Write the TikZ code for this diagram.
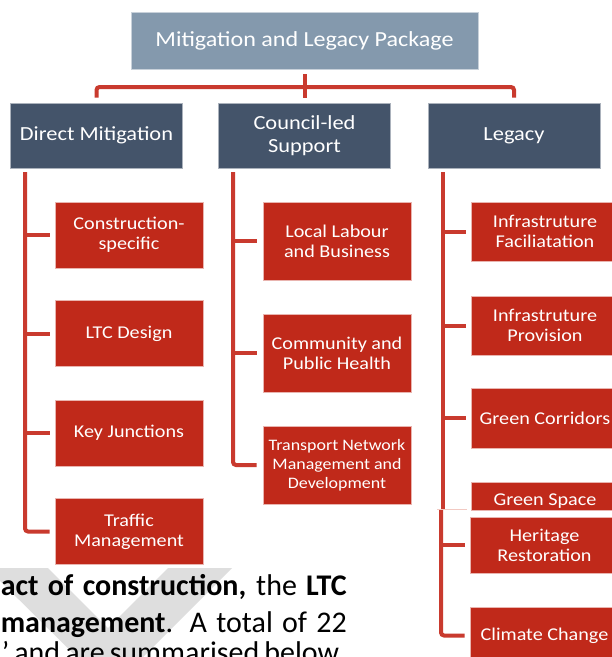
\documentclass[tikz,border=0pt]{standalone}
\usepackage{fontspec}
\setmainfont{Carlito}
\newfontfamily\diagfont{Carlito}[FakeStretch=1.12]
\definecolor{topc}{HTML}{8499AD}
\definecolor{midc}{HTML}{44546A}
\definecolor{boxred}{HTML}{C0291A}
\definecolor{connc}{HTML}{C93A2E}
\definecolor{wmark}{HTML}{DEDEDE}
\definecolor{seam}{HTML}{F2C9C2}
\tikzset{
  toplbl/.style={fill=topc, draw=white!55!topc, line width=0.6pt, text=white, minimum width=347pt, minimum height=57pt, inner sep=0pt, font=\diagfont\fontsize{21.5}{24}\selectfont},
  headbox/.style={fill=midc, draw=white!55!midc, line width=0.6pt, text=white, minimum width=172pt, minimum height=65pt, inner sep=0pt, align=center, font=\diagfont\fontsize{20}{23}\selectfont},
  leafbox/.style={fill=boxred, draw=white!65!boxred, line width=0.6pt, text=white, minimum width=148pt, inner sep=0pt, align=center, font=\diagfont\fontsize{18}{20}\selectfont},
  leaftext/.style={text=white, inner sep=0pt, align=center, font=\diagfont\fontsize{18}{20}\selectfont},
  conn/.style={draw=connc, line width=4pt},
  bodytext/.style={anchor=base east, inner sep=0pt, text=black, font=\fontsize{30}{37}\selectfont}
}
\begin{document}
\begin{tikzpicture}[x=1pt,y=-1pt]
\clip (0,0) rectangle (612,657);
\fill[white] (0,0) rectangle (612,657);

% watermark
\fill[wmark] (-13,568) -- (48,568) -- (108,628) -- (168,568) -- (232,568) -- (110,690) -- cycle;

% top and heads
\node[toplbl] (top) at (304.5,40.5) {Mitigation and Legacy Package};
\node[headbox] (direct) at (96.5,135.5) {Direct Mitigation};
\node[headbox] (council) at (304.5,135.5) {Council-led\\Support};
\node[headbox] (legacy) at (514,135.5) {Legacy};

% left column
\node[leafbox, minimum height=66pt] (cons) at (129,235) {Construction-\\specific};
\node[leafbox, minimum height=66pt] (ltc) at (129,333.5) {LTC Design};
\node[leafbox, minimum height=66pt] (key) at (129,433) {Key Junctions};
\node[leafbox, minimum height=66pt] (traffic) at (129,531.5) {Traffic\\Management};

% middle column
\node[leafbox, minimum height=78pt] (labour) at (337,241) {Local Labour\\and Business};
\node[leafbox, minimum height=78pt] (health) at (337,353) {Community and\\Public Health};
\node[leafbox, minimum height=78pt, font=\diagfont\fontsize{16}{19}\selectfont] (transport) at (337,465) {Transport Network\\Management and\\Development};

% right column
\node[leafbox, minimum height=59pt] (infraf) at (545,231.5) {Infrastruture\\Faciliatation};
\node[leafbox, minimum height=59pt] (infrap) at (545,325.5) {Infrastruture\\Provision};
\node[leafbox, minimum height=60pt] (green) at (545,418) {Green Corridors};
\node[leafbox, minimum height=28pt] (gspace) at (545,496) {};
\node[leaftext, anchor=base] (gspacet) at (545,505) {Green Space};
\node[leafbox, minimum height=56pt, minimum width=149pt] (heritage) at (544.5,545) {Heritage\\Restoration};
\node[leafbox, minimum height=57pt, minimum width=149pt] (climate) at (544.5,635.5) {Climate Change};

% top connector
\coordinate (hb) at (305,87);
\draw[conn] ([yshift=-5pt]top.south) -- ([yshift=5pt]council.north);
\draw[conn, rounded corners=3pt] ([yshift=5pt]direct.north) |- (hb) -| ([yshift=5pt]legacy.north);

% left column connectors
\coordinate (lv) at (25,172);
\draw[conn, rounded corners=3pt] (lv) |- ([xshift=-5pt]traffic.west);
\draw[conn] (lv |- cons.west) -- ([xshift=-5pt]cons.west);
\draw[conn] (lv |- ltc.west) -- ([xshift=-5pt]ltc.west);
\draw[conn] (lv |- key.west) -- ([xshift=-5pt]key.west);

% middle column connectors
\coordinate (mv) at (233,172);
\draw[conn, rounded corners=3pt] (mv) |- ([xshift=-6pt]transport.west);
\draw[conn] (mv |- labour.west) -- ([xshift=-6pt]labour.west);
\draw[conn] (mv |- health.west) -- ([xshift=-6pt]health.west);

% right column connectors (upper part)
\coordinate (rv) at (443,172);
\coordinate (rb) at (443,509);
\draw[conn] (rv) -- (rb);
\draw[conn] (rv |- infraf.west) -- ([xshift=-5pt]infraf.west);
\draw[conn] (rv |- infrap.west) -- ([xshift=-5pt]infrap.west);
\draw[conn] (rv |- green.west) -- ([xshift=-5pt]green.west);
% seam
\coordinate (sa) at (437,509.5);
\coordinate (sb) at (467,509.5);
\draw[seam, line width=0.8pt] (sa) -- (sb);
% right column connectors (lower part)
\coordinate (rv2) at (441,510);
\draw[conn, rounded corners=3pt] (rv2) |- ([xshift=-5pt]climate.west);
\draw[conn] (rv2 |- heritage.west) -- ([xshift=-5pt]heritage.west);

% body text
\node[bodytext] (l1) at (347,595) {\makebox[346pt][s]{\textbf{act of construction,} the \textbf{LTC}}};
\node[bodytext] (l2) at (347,632) {\makebox[346pt][s]{\textbf{management}. A total of 22}};
\node[bodytext] (l3) at (345,662) {\makebox[343pt][s]{’ and are summarised below.}};
\end{tikzpicture}
\end{document}
